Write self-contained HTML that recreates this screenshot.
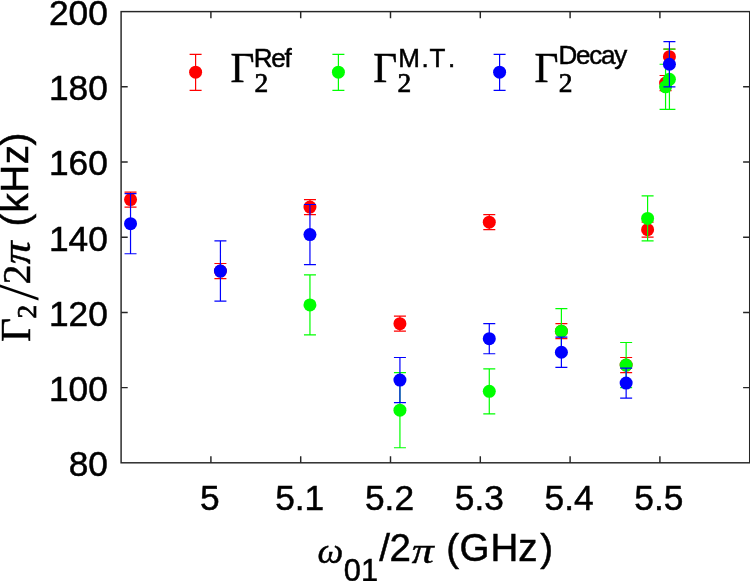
<!DOCTYPE html>
<html lang="en">
<head>
<meta charset="utf-8">
<title>Gamma2 vs omega01</title>
<style>
html,body{margin:0;padding:0;background:#fff;}
body{width:750px;height:581px;overflow:hidden;}
svg{display:block;}
.sans{font-family:"Liberation Sans",Arial,Helvetica,sans-serif;}
.serif{font-family:"Liberation Serif","Times New Roman",serif;}
.tick{font-size:35.3px;fill:#000;}
.sans{stroke:#000;stroke-width:0.5px;}
.serif{stroke:#000;stroke-width:0.45px;}
</style>
</head>
<body>
<svg width="750" height="581" viewBox="0 0 750 581">
<rect x="0" y="0" width="750" height="581" fill="#fff"/>

<rect x="121.1" y="11.6" width="628.60" height="451.20" fill="none" stroke="#262626" stroke-width="1.45"/>
<path d="M210.90 462.8v-6.6M210.90 11.6v6.6M300.70 462.8v-6.6M300.70 11.6v6.6M390.50 462.8v-6.6M390.50 11.6v6.6M480.30 462.8v-6.6M480.30 11.6v6.6M570.10 462.8v-6.6M570.10 11.6v6.6M659.90 462.8v-6.6M659.90 11.6v6.6M121.1 86.80h6.6M749.7 86.80h-6.6M121.1 162.00h6.6M749.7 162.00h-6.6M121.1 237.20h6.6M749.7 237.20h-6.6M121.1 312.40h6.6M749.7 312.40h-6.6M121.1 387.60h6.6M749.7 387.60h-6.6" stroke="#262626" stroke-width="1.45" fill="none"/>
<g class="sans tick" text-anchor="end">
<text x="107.9" y="25.00">200</text>
<text x="107.9" y="100.20">180</text>
<text x="107.9" y="175.40">160</text>
<text x="107.9" y="250.60">140</text>
<text x="107.9" y="325.80">120</text>
<text x="107.9" y="401.00">100</text>
<text x="107.9" y="476.20">80</text>
</g>
<g class="sans tick" text-anchor="middle">
<text x="209.90" y="509.9">5</text>
<text x="299.70" y="509.9">5.1</text>
<text x="389.50" y="509.9">5.2</text>
<text x="479.30" y="509.9">5.3</text>
<text x="569.10" y="509.9">5.4</text>
<text x="658.90" y="509.9">5.5</text>
</g>
<path d="M130.53 207.12V192.08M124.53 207.12h12.0M124.53 192.08h12.0M220.42 278.56V263.52M214.42 278.56h12.0M214.42 263.52h12.0M309.95 214.64V199.60M303.95 214.64h12.0M303.95 199.60h12.0M399.93 331.20V316.16M393.93 331.20h12.0M393.93 316.16h12.0M489.28 229.68V214.64M483.28 229.68h12.0M483.28 214.64h12.0M561.39 338.72V323.68M555.39 338.72h12.0M555.39 323.68h12.0M626.14 372.56V357.52M620.14 372.56h12.0M620.14 357.52h12.0M647.60 237.20V222.16M641.60 237.20h12.0M641.60 222.16h12.0M665.56 90.56V75.52M659.56 90.56h12.0M659.56 75.52h12.0M669.42 64.24V49.20M663.42 64.24h12.0M663.42 49.20h12.0" stroke="#ff0000" stroke-width="1.2" fill="none"/>
<circle cx="130.53" cy="199.60" r="6.5" fill="#ff0000"/>
<circle cx="220.42" cy="271.04" r="6.5" fill="#ff0000"/>
<circle cx="309.95" cy="207.12" r="6.5" fill="#ff0000"/>
<circle cx="399.93" cy="323.68" r="6.5" fill="#ff0000"/>
<circle cx="489.28" cy="222.16" r="6.5" fill="#ff0000"/>
<circle cx="561.39" cy="331.20" r="6.5" fill="#ff0000"/>
<circle cx="626.14" cy="365.04" r="6.5" fill="#ff0000"/>
<circle cx="647.60" cy="229.68" r="6.5" fill="#ff0000"/>
<circle cx="665.56" cy="83.04" r="6.5" fill="#ff0000"/>
<circle cx="669.42" cy="56.72" r="6.5" fill="#ff0000"/>
<path d="M309.95 334.96V274.80M303.95 334.96h12.0M303.95 274.80h12.0M399.93 447.76V372.56M393.93 447.76h12.0M393.93 372.56h12.0M489.28 413.92V368.80M483.28 413.92h12.0M483.28 368.80h12.0M561.39 353.76V308.64M555.39 353.76h12.0M555.39 308.64h12.0M626.14 387.60V342.48M620.14 387.60h12.0M620.14 342.48h12.0M647.60 240.96V195.84M641.60 240.96h12.0M641.60 195.84h12.0M665.56 109.36V64.24M659.56 109.36h12.0M659.56 64.24h12.0M669.42 109.36V49.20M663.42 109.36h12.0M663.42 49.20h12.0" stroke="#00ff00" stroke-width="1.2" fill="none"/>
<circle cx="309.95" cy="304.88" r="6.5" fill="#00ff00"/>
<circle cx="399.93" cy="410.16" r="6.5" fill="#00ff00"/>
<circle cx="489.28" cy="391.36" r="6.5" fill="#00ff00"/>
<circle cx="561.39" cy="331.20" r="6.5" fill="#00ff00"/>
<circle cx="626.14" cy="365.04" r="6.5" fill="#00ff00"/>
<circle cx="647.60" cy="218.40" r="6.5" fill="#00ff00"/>
<circle cx="665.56" cy="86.80" r="6.5" fill="#00ff00"/>
<circle cx="669.42" cy="79.28" r="6.5" fill="#00ff00"/>
<path d="M130.53 253.74V193.58M124.53 253.74h12.0M124.53 193.58h12.0M220.42 301.12V240.96M214.42 301.12h12.0M214.42 240.96h12.0M309.95 264.65V204.49M303.95 264.65h12.0M303.95 204.49h12.0M399.93 402.64V357.52M393.93 402.64h12.0M393.93 357.52h12.0M489.28 353.76V323.68M483.28 353.76h12.0M483.28 323.68h12.0M561.39 367.30V337.22M555.39 367.30h12.0M555.39 337.22h12.0M626.14 398.13V368.05M620.14 398.13h12.0M620.14 368.05h12.0M669.42 86.80V41.68M663.42 86.80h12.0M663.42 41.68h12.0" stroke="#0000ff" stroke-width="1.2" fill="none"/>
<circle cx="130.53" cy="223.66" r="6.5" fill="#0000ff"/>
<circle cx="220.42" cy="271.04" r="6.5" fill="#0000ff"/>
<circle cx="309.95" cy="234.57" r="6.5" fill="#0000ff"/>
<circle cx="399.93" cy="380.08" r="6.5" fill="#0000ff"/>
<circle cx="489.28" cy="338.72" r="6.5" fill="#0000ff"/>
<circle cx="561.39" cy="352.26" r="6.5" fill="#0000ff"/>
<circle cx="626.14" cy="383.09" r="6.5" fill="#0000ff"/>
<circle cx="669.42" cy="64.24" r="6.5" fill="#0000ff"/>
<path d="M195.6 54.4V90.4M189.6 54.4h12.0M189.6 90.4h12.0" stroke="#ff0000" stroke-width="1.2" fill="none"/><circle cx="195.6" cy="72.2" r="6.5" fill="#ff0000"/>
<path d="M338.4 54.4V90.4M332.4 54.4h12.0M332.4 90.4h12.0" stroke="#00ff00" stroke-width="1.2" fill="none"/><circle cx="338.4" cy="72.2" r="6.5" fill="#00ff00"/>
<path d="M499.6 54.4V90.4M493.6 54.4h12.0M493.6 90.4h12.0" stroke="#0000ff" stroke-width="1.2" fill="none"/><circle cx="499.6" cy="72.2" r="6.5" fill="#0000ff"/>
<text class="serif" x="230.4" y="82.2" font-size="41.4">Γ</text><text class="serif" x="254.6" y="92.1" font-size="27.5" style="stroke-width:0.7px">2</text><text class="sans" x="253.8" y="66.8" font-size="26" letter-spacing="-1.25">Ref</text>
<text class="serif" x="373.2" y="82.2" font-size="41.4">Γ</text><text class="serif" x="397.4" y="92.1" font-size="27.5" style="stroke-width:0.7px">2</text><text class="sans" x="398.2 421.4 429.4 448" y="67.0" font-size="26" letter-spacing="0">M.T.</text>
<text class="serif" x="534.6" y="82.2" font-size="41.4">Γ</text><text class="serif" x="558.8" y="92.1" font-size="27.5" style="stroke-width:0.7px">2</text><text class="sans" x="558.5" y="64.4" font-size="26" letter-spacing="-1.25">Decay</text>
<g transform="translate(30,342) rotate(-90)"><text class="serif" x="0" y="0" font-size="41.4">Γ</text><text class="serif" x="23.6" y="5.6" font-size="27.5" style="stroke-width:0.7px">2</text><text class="serif" x="41.6" y="8" font-size="58" style="stroke:none">/</text><text class="serif" x="57.5" y="0" font-size="40">2</text><text class="serif" x="77.8" y="0" font-size="40" font-style="italic" textLength="23" lengthAdjust="spacingAndGlyphs">π</text><text class="sans" x="115.4 129.5 149.2 177.8 196.5" y="-1.9" font-size="38.5">(kHz)</text></g>
<text class="serif" x="317.6" y="563.2" font-size="36.5" font-style="italic">ω</text><text class="sans" x="343.7 361" y="581.2" font-size="30.8">01</text><text class="sans" x="379.3 389.6" y="561.2" font-size="38.5">/2</text><text class="serif" x="411.8" y="562.8" font-size="36" font-style="italic" textLength="22" lengthAdjust="spacingAndGlyphs">π</text><text class="sans" x="446.3 459.6 490.5 518.3 540.3" y="561.1" font-size="38.5">(GHz)</text>
</svg>
</body>
</html>
